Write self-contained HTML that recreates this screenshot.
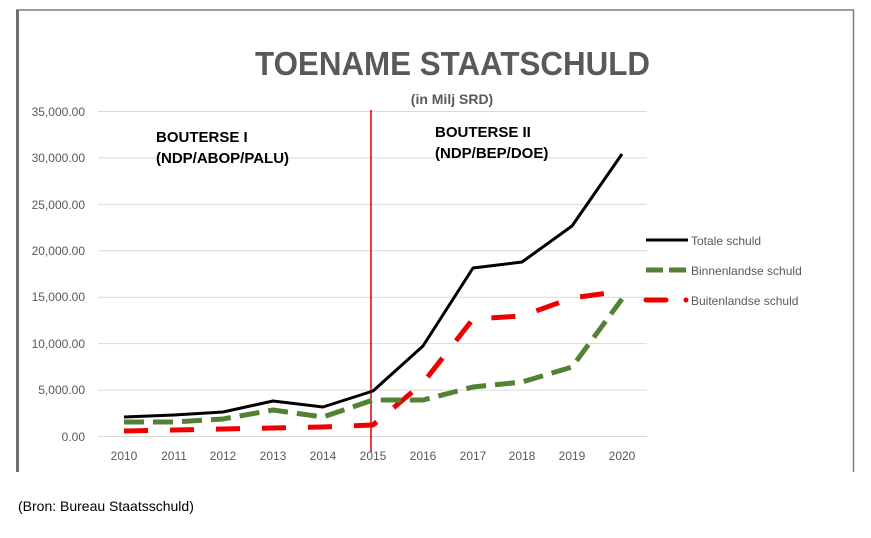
<!DOCTYPE html>
<html><head><style>
body{margin:0;background:#fff;}
svg text{font-family:"Liberation Sans",sans-serif;}
</style></head><body>
<svg width="871" height="533" viewBox="0 0 871 533" xmlns="http://www.w3.org/2000/svg">
<rect width="871" height="533" fill="#fff"/>
<line x1="16" y1="10" x2="854" y2="10" stroke="#7f7f7f" stroke-width="1.5"/>
<line x1="17.5" y1="10" x2="17.5" y2="472" stroke="#6e6e6e" stroke-width="3"/>
<line x1="853.5" y1="10" x2="853.5" y2="472" stroke="#7f7f7f" stroke-width="1.5"/>
<g stroke="#d9d9d9" stroke-width="1">
<line x1="98" y1="111.5" x2="647" y2="111.5"/>
<line x1="98" y1="157.9" x2="647" y2="157.9"/>
<line x1="98" y1="204.4" x2="647" y2="204.4"/>
<line x1="98" y1="250.8" x2="647" y2="250.8"/>
<line x1="98" y1="297.2" x2="647" y2="297.2"/>
<line x1="98" y1="343.6" x2="647" y2="343.6"/>
<line x1="98" y1="390.1" x2="647" y2="390.1"/>
<line x1="98" y1="436.5" x2="647" y2="436.5"/>
</g>
<g font-size="12" fill="#595959" text-anchor="end">
<text x="85" y="116">35,000.00</text>
<text x="85" y="162">30,000.00</text>
<text x="85" y="209">25,000.00</text>
<text x="85" y="255">20,000.00</text>
<text x="85" y="301">15,000.00</text>
<text x="85" y="348">10,000.00</text>
<text x="85" y="394">5,000.00</text>
<text x="85" y="441">0.00</text>
</g>
<g font-size="12" fill="#595959" text-anchor="middle">
<text x="124" y="460">2010</text><text x="174" y="460">2011</text><text x="223" y="460">2012</text>
<text x="273" y="460">2013</text><text x="323" y="460">2014</text><text x="373" y="460">2015</text>
<text x="423" y="460">2016</text><text x="473" y="460">2017</text><text x="522" y="460">2018</text>
<text x="572" y="460">2019</text><text x="622" y="460">2020</text>
</g>
<text x="255" y="75" font-size="33" font-weight="bold" fill="#595959" textLength="395" lengthAdjust="spacingAndGlyphs">TOENAME STAATSCHULD</text>
<text x="452" y="104" font-size="14" font-weight="bold" fill="#595959" text-anchor="middle">(in Milj SRD)</text>
<g font-size="15" font-weight="bold" fill="#000">
<text x="156" y="142">BOUTERSE I</text>
<text x="156" y="163">(NDP/ABOP/PALU)</text>
<text x="435" y="137">BOUTERSE II</text>
<text x="435" y="158">(NDP/BEP/DOE)</text>
</g>
<line x1="371" y1="110" x2="371" y2="452" stroke="#e00000" stroke-width="1.5"/>
<polyline fill="none" stroke="#e00" stroke-width="5" stroke-dasharray="24,22" stroke-linejoin="round"
 points="124,431 174,430 223,429 273,428 323,427 373,425 423,383 473,319 522,316 572,298 622,291"/>
<polyline fill="none" stroke="#548235" stroke-width="5" stroke-dasharray="20,9" stroke-linejoin="round"
 points="124,422 174,422 223,419 273,410 323,417 373,400 423,400 473,387 522,382 572,367 622,299"/>
<polyline fill="none" stroke="#000" stroke-width="3" stroke-linejoin="round"
 points="124,417 174,415 223,412 273,401 323,407 373,391 423,346 473,268 522,262 572,226 622,154"/>
<line x1="646" y1="240" x2="688" y2="240" stroke="#000" stroke-width="3"/>
<line x1="646" y1="270" x2="687" y2="270" stroke="#548235" stroke-width="5" stroke-dasharray="17,6"/>
<line x1="646" y1="300" x2="666" y2="300" stroke="#e00" stroke-width="5" stroke-linecap="round"/>
<circle cx="686" cy="300" r="2.5" fill="#e00"/>
<g font-size="12" fill="#595959">
<text x="691" y="245">Totale schuld</text>
<text x="691" y="275">Binnenlandse schuld</text>
<text x="691" y="305">Buitenlandse schuld</text>
</g>
<text x="18" y="511" font-size="14" fill="#000">(Bron: Bureau Staatsschuld)</text>
</svg>
</body></html>
